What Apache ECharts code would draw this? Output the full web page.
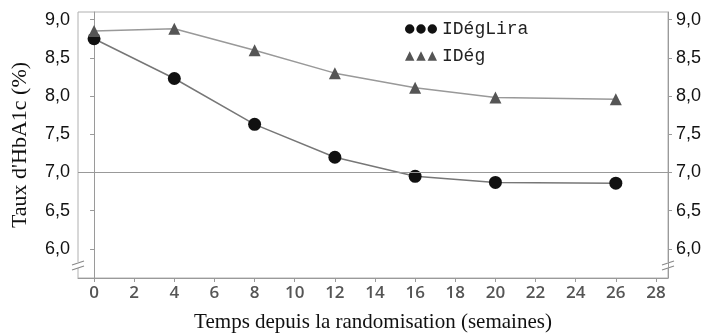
<!DOCTYPE html>
<html>
<head>
<meta charset="utf-8">
<script src="https://cdn.jsdelivr.net/npm/echarts@6/dist/echarts.min.js"></script>
<style>
  html, body { margin: 0; padding: 0; background: #fff; }
  #chart { width: 708px; height: 333px; }
</style>
</head>
<body>
<div id="chart"></div>
<script>
const weeks = [0, 4, 8, 12, 16, 20, 26];
const idegLira = [8.75, 8.23, 7.63, 7.20, 6.95, 6.87, 6.86];
const ideg = [8.85, 8.88, 8.60, 8.30, 8.11, 7.98, 7.96];
const xTicks = [0, 2, 4, 6, 8, 10, 12, 14, 16, 18, 20, 22, 24, 26, 28];
const yTicks = [6.0, 6.5, 7.0, 7.5, 8.0, 8.5, 9.0];

const chart = echarts.init(document.getElementById("chart"));
const axisGray = "#9a9a9a";
const fmt = v => v.toFixed(1).replace(".", ",");

const threeDots = "path://M0,5a5,5 0 1,0 10,0a5,5 0 1,0 -10,0M12,5a5,5 0 1,0 10,0a5,5 0 1,0 -10,0M24,5a5,5 0 1,0 10,0a5,5 0 1,0 -10,0";
const threeTri = "path://M0,10L5,0L10,10ZM12,10L17,0L22,10ZM24,10L29,0L34,10Z";

const yAxisBase = {
    type: "value",
    min: 5.62,
    max: 9.1,
    splitLine: { show: false },
    axisLine: { show: true, lineStyle: { color: axisGray } },
    axisTick: { show: true, length: 4, customValues: yTicks, lineStyle: { color: axisGray } },
    axisLabel: {
        customValues: yTicks,
        formatter: fmt,
        color: "#111",
        fontFamily: "Liberation Sans",
        fontSize: 18,
        margin: 8
    }
};

chart.setOption({
    animation: false,
    grid: {
        left: 78, right: 40, top: 12, bottom: 55,
        outerBoundsMode: "none",
        show: true, borderColor: "#b0b0b0", borderWidth: 1
    },
    legend: {
        left: 400,
        top: 15,
        orient: "vertical",
        itemGap: 9,
        itemWidth: 32,
        itemHeight: 10,
        textStyle: { fontFamily: "Liberation Mono", fontSize: 18, color: "#222" },
        data: [
            { name: "IDégLira", icon: threeDots, itemStyle: { color: "#111" } },
            { name: "IDég", icon: threeTri, itemStyle: { color: "#555" } }
        ]
    },
    xAxis: {
        type: "value",
        min: -0.8,
        max: 28.6,
        name: "Temps depuis la randomisation (semaines)",
        nameLocation: "middle",
        nameGap: 34,
        nameTextStyle: { fontFamily: "Liberation Serif", fontSize: 21, color: "#111" },
        splitLine: { show: false },
        axisLine: { lineStyle: { color: axisGray } },
        axisTick: { customValues: xTicks, length: 4, lineStyle: { color: axisGray } },
        axisLabel: {
            customValues: xTicks,
            color: "#555",
            fontFamily: "Open Sans",
            fontWeight: 600,
            fontSize: 17,
            margin: 7
        }
    },
    yAxis: [
        {
            ...yAxisBase,
            position: "left",
            name: "Taux d'HbA1c (%)",
            nameLocation: "middle",
            nameGap: 47,
            nameTextStyle: { fontFamily: "Liberation Serif", fontSize: 22, color: "#111" }
        },
        { ...yAxisBase, position: "right" }
    ],
    series: [
        {
            name: "IDégLira",
            type: "line",
            data: weeks.map((w, i) => [w, idegLira[i]]),
            symbol: "circle",
            symbolSize: 13,
            itemStyle: { color: "#111" },
            lineStyle: { color: "#777", width: 1.5 },
            markLine: {
                silent: true,
                symbol: "none",
                label: { show: false },
                lineStyle: { color: "#999", width: 1.2, type: "solid" },
                data: [{ yAxis: 7.0 }]
            }
        },
        {
            name: "IDég",
            type: "line",
            data: weeks.map((w, i) => [w, ideg[i]]),
            symbol: "triangle",
            symbolSize: 12,
            itemStyle: { color: "#555" },
            lineStyle: { color: "#999", width: 1.5 }
        }
    ],
    graphic: [
        { type: "rect", shape: { x: 74, y: 262, width: 9, height: 6 }, style: { fill: "#fff" } },
        { type: "line", shape: { x1: 72, y1: 265, x2: 84, y2: 261 }, style: { stroke: "#888", lineWidth: 1.2 } },
        { type: "line", shape: { x1: 72, y1: 270, x2: 84, y2: 266 }, style: { stroke: "#888", lineWidth: 1.2 } },
        { type: "rect", shape: { x: 664, y: 262, width: 9, height: 6 }, style: { fill: "#fff" } },
        { type: "line", shape: { x1: 662, y1: 265, x2: 674, y2: 261 }, style: { stroke: "#888", lineWidth: 1.2 } },
        { type: "line", shape: { x1: 662, y1: 270, x2: 674, y2: 266 }, style: { stroke: "#888", lineWidth: 1.2 } }
    ]
});
</script>
</body>
</html>
